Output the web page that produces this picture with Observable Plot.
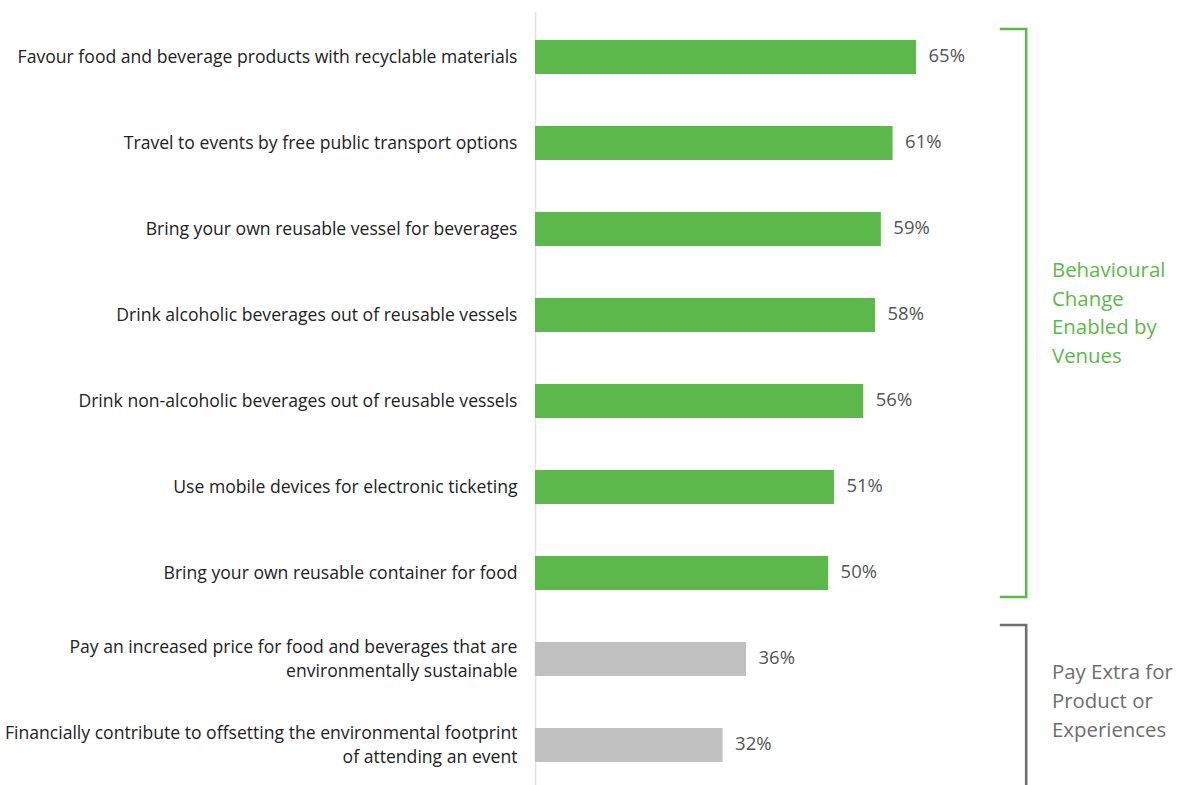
<!DOCTYPE html>
<html><head><meta charset="utf-8">
<script src="https://cdn.jsdelivr.net/npm/d3@7"></script>
<script src="https://cdn.jsdelivr.net/npm/@observablehq/plot@0.6"></script>
<style>
body{margin:0;background:#fff;}
#chart svg{display:block;}
</style>
</head><body><div id="chart"></div>
<script>
const categories = [
  "Favour food and beverage products with recyclable materials",
  "Travel to events by free public transport options",
  "Bring your own reusable vessel for beverages",
  "Drink alcoholic beverages out of reusable vessels",
  "Drink non-alcoholic beverages out of reusable vessels",
  "Use mobile devices for electronic ticketing",
  "Bring your own reusable container for food",
  "Pay an increased price for food and beverages that are\nenvironmentally sustainable",
  "Financially contribute to offsetting the environmental footprint\nof attending an event"
];
const values = [65, 61, 59, 58, 56, 51, 50, 36, 32];
const groupOf = ["venue","venue","venue","venue","venue","venue","venue","extra","extra"];
const groups = ["venue", "extra"];
const groupLabels = ["Behavioural\nChange\nEnabled by\nVenues", "Pay Extra for\nProduct or\nExperiences"];

const barColor = {venue: "#5db84c", extra: "#c0c0c0"};
const bracketColor = {venue: "#5db84c", extra: "#6e6e6e"};
const labelColor = {venue: "#5db84c", extra: "#6e6e6e"};

const data = categories.map((c, i) => ({category: c, value: values[i], group: groupOf[i]}));
const font = "'Open Sans', Lato, sans-serif";

// bracket annotation: x in % units of the value axis
const bracketX = 83.8, capX = 79.3, textX = 88.2;
const bracketPad = {venue: [11, 7], extra: [17, 40]};

function brackets(index, scales, values, dims) {
  const g = d3.create("svg:g");
  for (const grp of groups) {
    const cats = data.filter(d => d.group === grp).map(d => d.category);
    const yFirst = scales.y(cats[0]);
    const yLast = scales.y(cats[cats.length - 1]);
    const band = scales.y.bandwidth ? scales.y.bandwidth() : 0;
    const top = yFirst - bracketPad[grp][0];
    const bottom = yLast + band + bracketPad[grp][1];
    const xb = scales.x(bracketX), xc = scales.x(capX), xt = scales.x(textX);
    g.append("path")
      .attr("d", `M${xc},${top}H${xb}V${bottom}H${xc}`)
      .attr("fill", "none")
      .attr("stroke", bracketColor[grp])
      .attr("stroke-width", 2.6);
    const lines = groupLabels[groups.indexOf(grp)].split("\n");
    const mid = grp === "venue" ? (top + bottom) / 2 : (yFirst + yLast + band) / 2 - 1;
    const lh = 28.7;
    const t = g.append("text")
      .attr("font-family", font)
      .attr("font-size", 20.4)
      .attr("text-anchor", "start")
      .attr("fill", labelColor[grp]);
    lines.forEach((ln, i) => {
      t.append("tspan")
        .attr("x", xt)
        .attr("y", mid + (i - (lines.length - 1) / 2) * lh)
        .attr("dy", "0.35em")
        .text(ln);
    });
  }
  return g.node();
}

const chart = Plot.plot({
  width: 1184,
  height: 785,
  marginLeft: 535,
  marginRight: 0,
  marginTop: 12,
  marginBottom: 0,
  style: {fontFamily: font, background: "#fff"},
  x: {domain: [0, 110], range: [535, 535 + 110 * (381 / 65)], axis: null},
  y: {domain: categories, range: [11.75, 790.25], paddingInner: 0.6, paddingOuter: 0.3, align: 0.5, label: null},
  marks: [
    Plot.axisY({
      tickSize: 0,
      tickPadding: 18,
      fontSize: 17.6,
      lineHeight: 1.36,
      dy: -2,
      color: "#222",
      label: null
    }),
    Plot.ruleX([0], {stroke: "#e3e3e3", strokeWidth: 1.5}),
    Plot.barX(data, {x: "value", y: "category", fill: d => barColor[d.group]}),
    Plot.text(data, {
      x: "value", y: "category", text: d => `${d.value}%`,
      dx: 12, dy: -1, textAnchor: "start", fill: "#555", fontSize: 18.5
    }),
    brackets
  ]
});
document.getElementById("chart").appendChild(chart);
</script>
</body></html>
